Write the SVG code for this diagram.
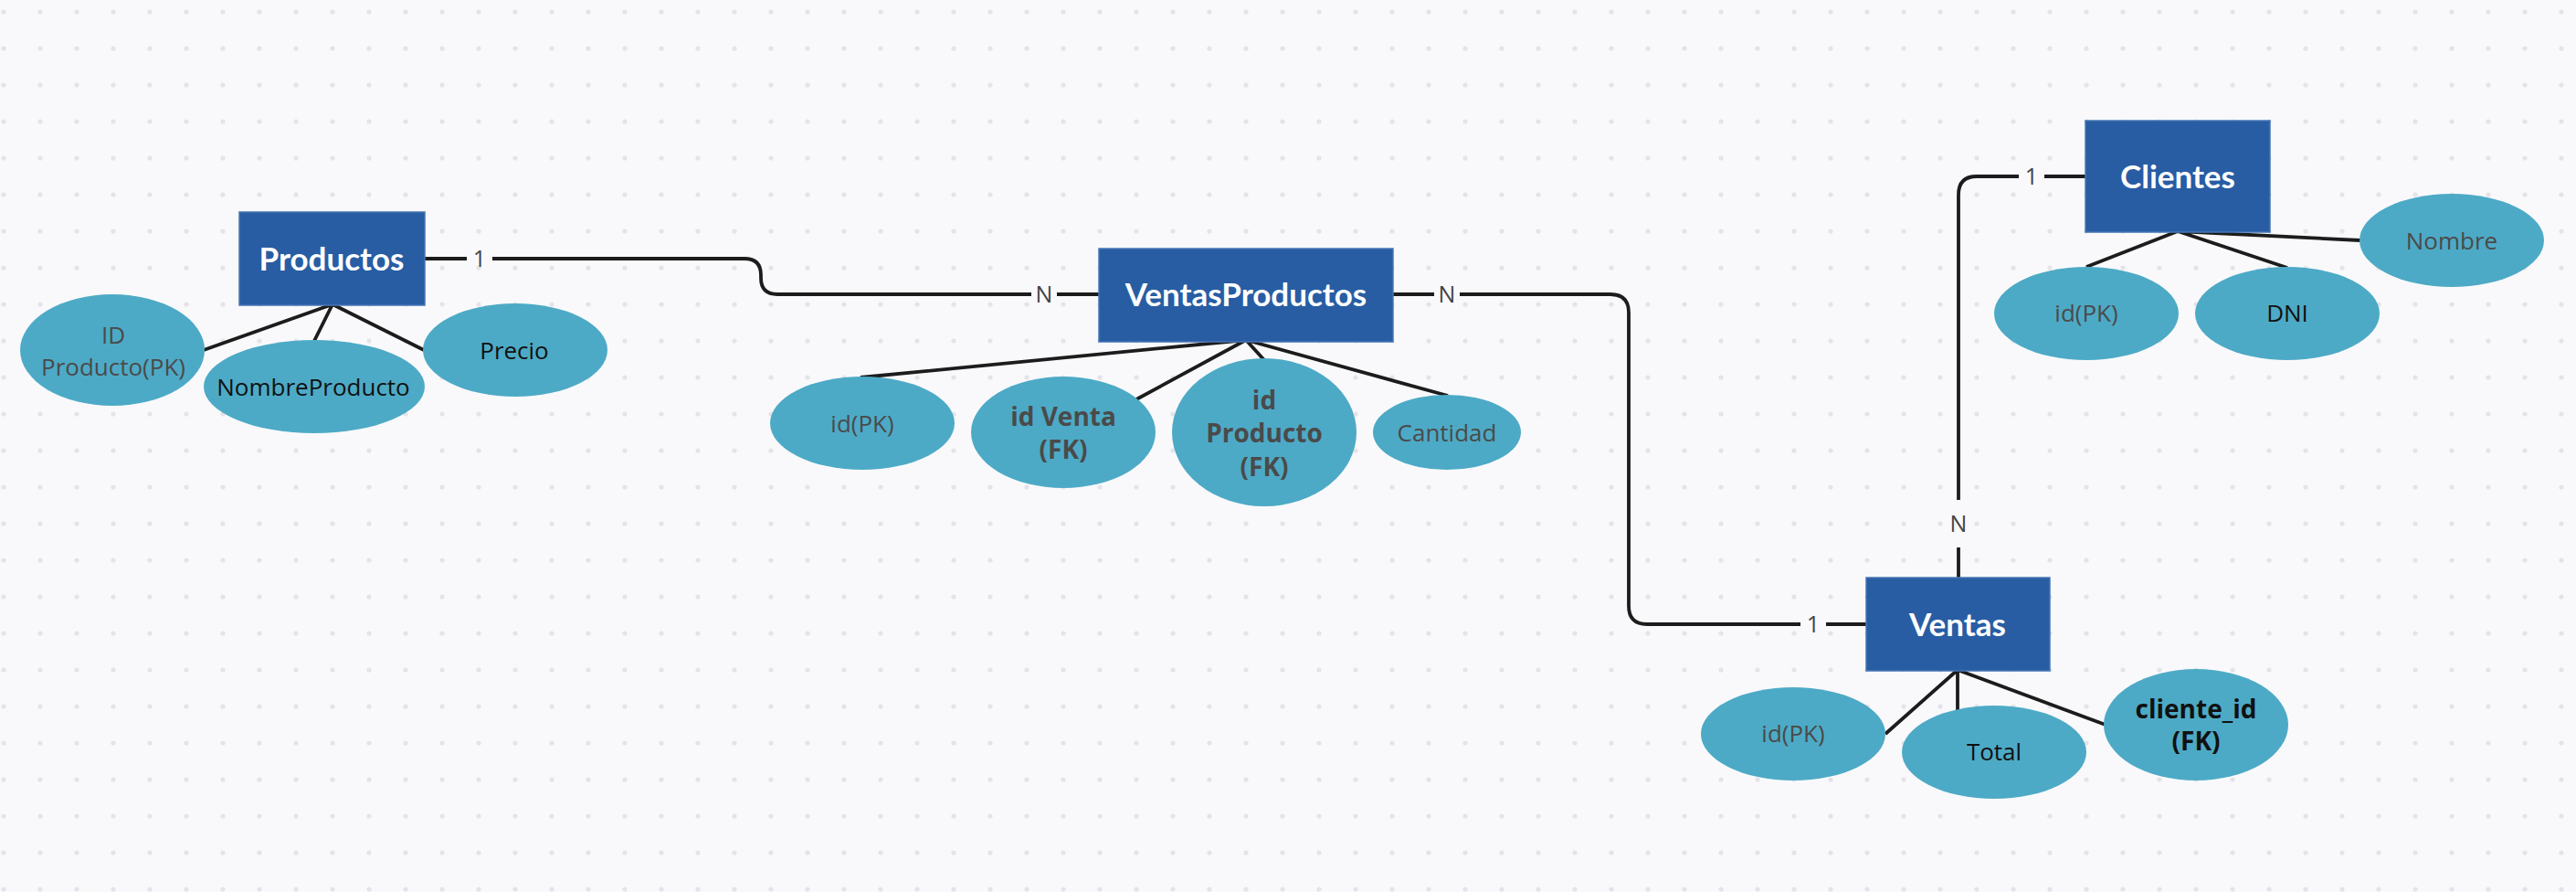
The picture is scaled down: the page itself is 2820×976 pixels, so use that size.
<svg xmlns="http://www.w3.org/2000/svg" width="2820" height="976" viewBox="0 0 2820 976">
<defs>
<pattern id="dots" x="0" y="0" width="40" height="40" patternUnits="userSpaceOnUse">
<circle cx="4" cy="13" r="2.6" fill="#e4e4e8"/>
</pattern>
<style>
.ent{fill:#285da3;stroke:#4676b4;stroke-width:1.5}
.title{font-family:Lato,"Open Sans",sans-serif;font-weight:700;font-size:35px;fill:#ffffff;text-anchor:middle}
.attr{fill:#4daac6}
.t{font-family:"Open Sans","Noto Sans",sans-serif;font-size:26px;text-anchor:middle}
.g{fill:#4a4a4a}
.k{fill:#111111}
.b{font-weight:700;font-size:28px}
.ln{fill:none;stroke:#1c1c1c;stroke-width:3.8;stroke-linecap:butt}
.lbl{font-family:"Open Sans","Noto Sans",sans-serif;font-size:25px;fill:#444444;text-anchor:middle}
</style>
</defs>
<rect x="0" y="0" width="2820" height="976" fill="#f9f9fb"/>
<rect x="0" y="0" width="2820" height="976" fill="url(#dots)"/>

<g id="connectors">
<path class="ln" d="M364,333 L223,383 M364,333 L344,373 M364,333 L464,383"/>
<path class="ln" d="M1364,372 L942,413 M1364,372 L1244,437 M1364,372 L1384,394 M1364,372 L1585,433"/>
<path class="ln" d="M2384,253 L2284,292 M2384,253 L2504,293 M2384,253 L2584,263"/>
<path class="ln" d="M2143,733 L2064,803 M2143,733 L2143,778 M2143,733 L2305,793"/>
<path class="ln" d="M465,283 H511 M539,283 H815 Q833,283 833,301 V304 Q833,322 851,322 H1129 M1157,322 H1203"/>
<path class="ln" d="M1525,322 H1570 M1598,322 H1763 Q1783,322 1783,342 V663 Q1783,683 1803,683 H1971 M1999,683 H2043"/>
<path class="ln" d="M2283,193 H2238 M2210,193 H2164 Q2144,193 2144,213 V547 M2144,599 V632"/>
<text class="lbl" x="525" y="292">1</text>
<text class="lbl" x="1143" y="331">N</text>
<text class="lbl" x="1584" y="331">N</text>
<text class="lbl" x="1985" y="692">1</text>
<text class="lbl" x="2224" y="202">1</text>
<text class="lbl" x="2144" y="582">N</text>
</g>

<g id="productos">
<rect class="ent" x="262" y="232" width="203" height="102"/>
<text class="title" x="363" y="296">Productos</text>
</g>
<g id="attr-id-producto">
<ellipse class="attr" cx="123" cy="383" rx="101" ry="61"/>
<text class="t g" x="124" y="376">ID</text>
<text class="t g" x="124" y="411">Producto(PK)</text>
</g>
<g id="attr-nombreproducto">
<ellipse class="attr" cx="344" cy="423" rx="121" ry="51"/>
<text class="t k" x="343" y="433">NombreProducto</text>
</g>
<g id="attr-precio">
<ellipse class="attr" cx="564" cy="383" rx="101" ry="51"/>
<text class="t k" x="563" y="393">Precio</text>
</g>

<g id="ventasproductos">
<rect class="ent" x="1203" y="272" width="322" height="102"/>
<text class="title" x="1364" y="335">VentasProductos</text>
</g>
<g id="attr-vp-id">
<ellipse class="attr" cx="944" cy="463" rx="101" ry="51"/>
<text class="t g" x="944" y="473">id(PK)</text>
</g>
<g id="attr-vp-idventa">
<ellipse class="attr" cx="1164" cy="473" rx="101" ry="61"/>
<text class="t g b" x="1164" y="466">id Venta</text>
<text class="t g b" x="1164" y="502">(FK)</text>
</g>
<g id="attr-vp-idproducto">
<ellipse class="attr" cx="1384" cy="473" rx="101" ry="81"/>
<text class="t g b" x="1384" y="448">id</text>
<text class="t g b" x="1384" y="484">Producto</text>
<text class="t g b" x="1384" y="521">(FK)</text>
</g>
<g id="attr-vp-cantidad">
<ellipse class="attr" cx="1584" cy="473" rx="81" ry="41"/>
<text class="t g" x="1584" y="483">Cantidad</text>
</g>

<g id="clientes">
<rect class="ent" x="2283" y="132" width="202" height="122"/>
<text class="title" x="2384" y="206">Clientes</text>
</g>
<g id="attr-cl-id">
<ellipse class="attr" cx="2284" cy="343" rx="101" ry="51"/>
<text class="t g" x="2284" y="352">id(PK)</text>
</g>
<g id="attr-cl-dni">
<ellipse class="attr" cx="2504" cy="343" rx="101" ry="51"/>
<text class="t k" x="2504" y="352">DNI</text>
</g>
<g id="attr-cl-nombre">
<ellipse class="attr" cx="2684" cy="263" rx="101" ry="51"/>
<text class="t g" x="2684" y="273">Nombre</text>
</g>

<g id="ventas">
<rect class="ent" x="2043" y="632" width="201" height="102"/>
<text class="title" x="2143" y="696">Ventas</text>
</g>
<g id="attr-v-id">
<ellipse class="attr" cx="1963" cy="803" rx="101" ry="51"/>
<text class="t g" x="1963" y="812">id(PK)</text>
</g>
<g id="attr-v-total">
<ellipse class="attr" cx="2183" cy="823" rx="101" ry="51"/>
<text class="t k" x="2183" y="832">Total</text>
</g>
<g id="attr-v-cliente">
<ellipse class="attr" cx="2404" cy="793" rx="101" ry="61"/>
<text class="t k b" x="2404" y="786">cliente_id</text>
<text class="t k b" x="2404" y="821">(FK)</text>
</g>
</svg>
